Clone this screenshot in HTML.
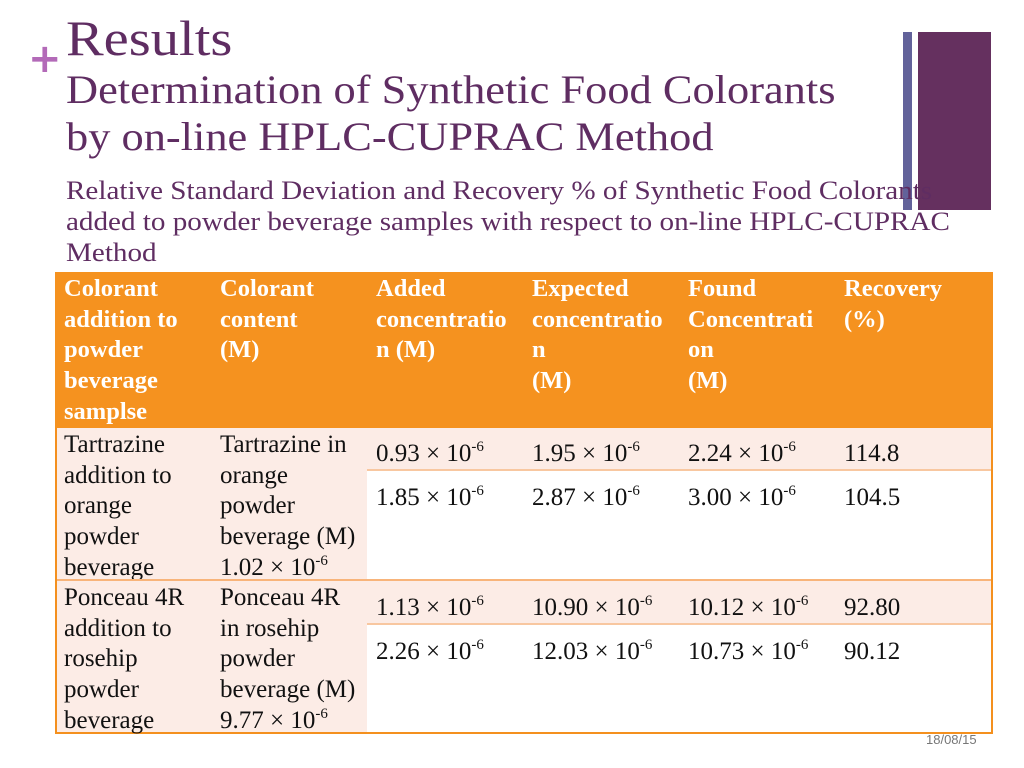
<!DOCTYPE html>
<html><head><meta charset="utf-8"><style>
body{margin:0;width:1024px;height:768px;background:#fff;position:relative;overflow:hidden;font-family:"Liberation Serif",serif}
.a{position:absolute;white-space:nowrap}
.t{color:#5f2d62;transform-origin:0 0}
.cell{position:absolute;box-sizing:border-box;padding-left:9px;padding-top:2px;font-size:25px;line-height:30.7px;color:#111;white-space:nowrap}
.h{color:#fff;font-weight:bold;background:#f5921f;font-size:24.5px}
.p{background:#fcece6}
sup{font-size:15px;vertical-align:0;position:relative;top:-10px}
</style></head><body>
<div class="a" style="left:28px;top:36px;font-size:40px;color:#b36ab8;font-family:'DejaVu Sans',sans-serif;font-weight:bold">+</div>
<div class="a" style="left:903px;top:32px;width:9px;height:178px;background:#62629a"></div>
<div class="a" style="left:918px;top:32px;width:73px;height:178px;background:#65305f"></div>
<div class="a t" style="left:66px;top:10px;font-size:50px;line-height:56px;transform:scaleX(1.13)">Results</div>
<div class="a t" style="left:66px;top:66px;font-size:40px;line-height:47px;transform:scaleX(1.11)">Determination of Synthetic Food Colorants<br>by on-line HPLC-CUPRAC Method</div>
<div class="a t" style="left:66px;top:175px;font-size:26px;line-height:31px;transform:scaleX(1.12)">Relative Standard Deviation and Recovery % of Synthetic Food Colorants<br>added to powder beverage samples with respect to on-line HPLC-CUPRAC<br>Method</div>

<div style="position:absolute;left:55px;top:272px;width:938px;height:462px;box-sizing:border-box;border:2px solid #f4901e">
</div>
<div class="cell h" style="left:55px;top:272px;width:156px;height:156px">Colorant<br>addition to<br>powder<br>beverage<br>samplse</div>
<div class="cell h" style="left:211px;top:272px;width:156px;height:156px">Colorant<br>content<br>(M)</div>
<div class="cell h" style="left:367px;top:272px;width:156px;height:156px">Added<br>concentratio<br>n (M)</div>
<div class="cell h" style="left:523px;top:272px;width:156px;height:156px">Expected<br>concentratio<br>n<br>(M)</div>
<div class="cell h" style="left:679px;top:272px;width:156px;height:156px">Found<br>Concentrati<br>on<br>(M)</div>
<div class="cell h" style="left:835px;top:272px;width:158px;height:156px">Recovery<br>(%)</div>

<div class="cell p" style="left:57px;top:428px;width:154px;height:152px;padding-left:7px">Tartrazine<br>addition to<br>orange<br>powder<br>beverage</div>
<div class="cell p" style="left:211px;top:428px;width:156px;height:152px">Tartrazine in<br>orange<br>powder<br>beverage (M)<br>1.02 × 10<sup>-6</sup></div>
<div class="a p" style="left:367px;top:428px;width:624px;height:43px;border-bottom:2px solid #f8c7a0;box-sizing:border-box"></div>
<div class="cell" style="left:367px;top:437px">0.93 × 10<sup>-6</sup></div>
<div class="cell" style="left:523px;top:437px">1.95 × 10<sup>-6</sup></div>
<div class="cell" style="left:679px;top:437px">2.24 × 10<sup>-6</sup></div>
<div class="cell" style="left:835px;top:437px">114.8</div>
<div class="cell" style="left:367px;top:481px">1.85 × 10<sup>-6</sup></div>
<div class="cell" style="left:523px;top:481px">2.87 × 10<sup>-6</sup></div>
<div class="cell" style="left:679px;top:481px">3.00 × 10<sup>-6</sup></div>
<div class="cell" style="left:835px;top:481px">104.5</div>
<div class="a" style="left:57px;top:579px;width:934px;height:2px;background:#f8b47a"></div>

<div class="cell p" style="left:57px;top:581px;width:154px;height:151px;padding-left:7px">Ponceau 4R<br>addition to<br>rosehip<br>powder<br>beverage</div>
<div class="cell p" style="left:211px;top:581px;width:156px;height:151px">Ponceau 4R<br>in rosehip<br>powder<br>beverage (M)<br>9.77 × 10<sup>-6</sup></div>
<div class="a p" style="left:367px;top:581px;width:624px;height:44px;border-bottom:2px solid #f8c7a0;box-sizing:border-box"></div>
<div class="cell" style="left:367px;top:591px">1.13 × 10<sup>-6</sup></div>
<div class="cell" style="left:523px;top:591px">10.90 × 10<sup>-6</sup></div>
<div class="cell" style="left:679px;top:591px">10.12 × 10<sup>-6</sup></div>
<div class="cell" style="left:835px;top:591px">92.80</div>
<div class="cell" style="left:367px;top:635px">2.26 × 10<sup>-6</sup></div>
<div class="cell" style="left:523px;top:635px">12.03 × 10<sup>-6</sup></div>
<div class="cell" style="left:679px;top:635px">10.73 × 10<sup>-6</sup></div>
<div class="cell" style="left:835px;top:635px">90.12</div>

<div class="a" style="left:926px;top:732px;font-size:13px;color:#777;font-family:'Liberation Sans',sans-serif">18/08/15</div>
</body></html>
